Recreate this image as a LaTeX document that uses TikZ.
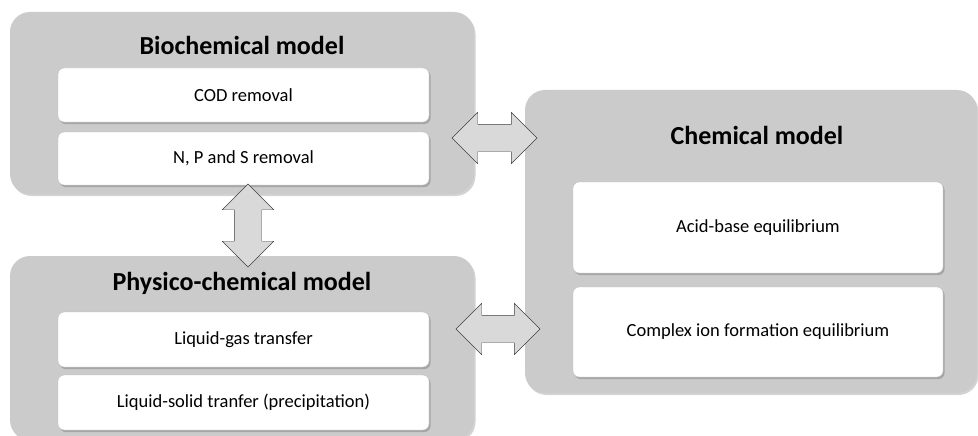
\documentclass[tikz,border=0pt]{standalone}
\usepackage{fontspec}
\setmainfont{Carlito}
\usepackage{tikz}
\usetikzlibrary{shapes.arrows,shadows}

\definecolor{modelgray}{HTML}{CBCBCB}
\definecolor{arrowgray}{HTML}{D9D9D9}
\definecolor{arrowline}{HTML}{3F3F3F}

\begin{document}
\begin{tikzpicture}[x=1pt,y=-1pt,thin]
  \tikzstyle{model}=[fill=modelgray,rounded corners=20pt,inner sep=0pt,
                     drop shadow={shadow xshift=1.5pt,shadow yshift=-2pt,opacity=.35}]
  \tikzstyle{process}=[fill=white,draw=black!25,rounded corners=6pt,inner sep=0pt,
                       font=\fontsize{18.5}{21}\selectfont,
                       drop shadow={shadow xshift=1.5pt,shadow yshift=-2pt,opacity=.5}]
  \tikzstyle{title}=[font=\fontsize{26}{30}\selectfont\bfseries]
  \tikzstyle{link}=[double arrow,draw=arrowline,fill=arrowgray,inner xsep=0pt,
                    inner ysep=13.5pt,double arrow head extend=12pt,line join=miter]

  \useasboundingbox (0,0) rectangle (978,436);

  \node[model,minimum width=464pt,minimum height=182pt] (bio)  at (242,103)   {};
  \node[model,minimum width=464pt,minimum height=184pt] (phys) at (242,348)   {};
  \node[model,minimum width=452pt,minimum height=303pt] (chem) at (751,241.5) {};

  \node[title] (biot)  at (242,45)  {Biochemical model};
  \node[title] (physt) at (242,283) {Physico-chemical model};
  \node[title] (chemt) at (757,135) {Chemical model};

  \node[process,minimum width=371pt,minimum height=54pt] (cod)   at (243.5,95)    {COD removal};
  \node[process,minimum width=371pt,minimum height=53pt] (nps)   at (243.5,158.5) {N, P and S removal};
  \node[process,minimum width=371pt,minimum height=55pt] (lgas)  at (243.5,339.5) {Liquid-gas transfer};
  \node[process,minimum width=371pt,minimum height=55pt] (lsol)  at (243.5,402.5) {Liquid-solid tranfer (precipitation)};
  \node[process,minimum width=370pt,minimum height=91pt] (acid)  at (758,227.5)   {Acid-base equilibrium};
  \node[process,minimum width=370pt,minimum height=90pt] (cplx)  at (758,332)     {Complex ion formation equilibrium};

  \node[link,minimum height=85pt]          (biochem)  at (494.5,138) {};
  \node[link,minimum height=84pt]          (physchem) at (498,329)   {};
  \node[link,minimum height=83pt,rotate=90] (biophys) at (248,225.5) {};
\end{tikzpicture}
\end{document}
